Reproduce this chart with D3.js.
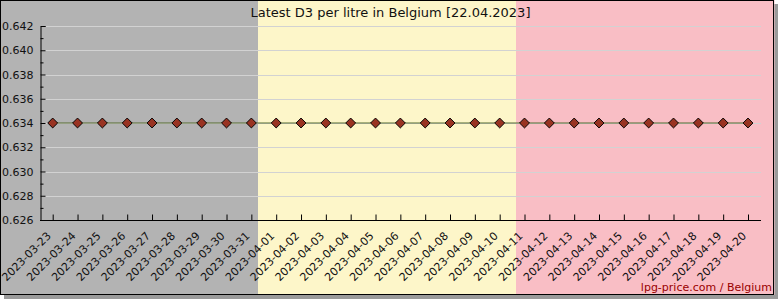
<!DOCTYPE html>
<html>
<head>
<meta charset="utf-8">
<script src="https://cdn.jsdelivr.net/npm/d3@7"></script>
<style>
  body { margin: 0; background: #fff; }
  svg { display: block; font-family: "DejaVu Sans", sans-serif; }
</style>
</head>
<body>
<svg id="chart"></svg>
<script>
// data
var dates = ["2023-03-23","2023-03-24","2023-03-25","2023-03-26","2023-03-27","2023-03-28","2023-03-29",
  "2023-03-30","2023-03-31","2023-04-01","2023-04-02","2023-04-03","2023-04-04","2023-04-05","2023-04-06",
  "2023-04-07","2023-04-08","2023-04-09","2023-04-10","2023-04-11","2023-04-12","2023-04-13","2023-04-14",
  "2023-04-15","2023-04-16","2023-04-17","2023-04-18","2023-04-19","2023-04-20"];
var prices = [0.634,0.634,0.634,0.634,0.634,0.634,0.634,0.634,0.634,0.634,0.634,0.634,0.634,0.634,0.634,
  0.634,0.634,0.634,0.634,0.634,0.634,0.634,0.634,0.634,0.634,0.634,0.634,0.634,0.634];
var yTicks = [0.626,0.628,0.630,0.632,0.634,0.636,0.638,0.640,0.642];
var yMinor = [0.627,0.629,0.631,0.633,0.635,0.637,0.639,0.641];
var bandColors = ["#b3b3b3","#fdf6c9","#f9bec5"];
var title = "Latest D3 per litre in Belgium [22.04.2023]";
var credit = "lpg-price.com / Belgium";

var W = 780, H = 300, frameW = 774, frameH = 295;
var plot = {left: 40, right: 761, top: 26, bottom: 220};

var svg = d3.select("#chart").attr("width", W).attr("height", H);

// shadow + bands + frame
svg.append("rect").attr("x", 4).attr("y", 4).attr("width", frameW).attr("height", frameH).attr("fill", "#9a9a9a");
var band = d3.scaleBand().domain(d3.range(3)).range([0, frameW]);
svg.selectAll(".band").data(bandColors).enter().append("rect")
  .attr("class", "band")
  .attr("x", function(d, i) { return band(i); })
  .attr("y", 0)
  .attr("width", band.bandwidth() + 0.5)
  .attr("height", frameH)
  .attr("fill", function(d) { return d; });
svg.append("rect").attr("x", 0.5).attr("y", 0.5).attr("width", frameW - 1).attr("height", frameH - 1)
  .attr("fill", "none").attr("stroke", "#000");

var x = d3.scalePoint().domain(dates).range([52.7, 748]);
var y = d3.scaleLinear().domain([0.626, 0.642]).range([plot.bottom, plot.top]);

var g = svg.append("g");

// grid
g.selectAll(".grid").data(yTicks.slice(1)).enter().append("line")
  .attr("x1", plot.left).attr("x2", plot.right)
  .attr("y1", function(d) { return Math.round(y(d)) + 0.5; })
  .attr("y2", function(d) { return Math.round(y(d)) + 0.5; })
  .attr("stroke", "#d2d2d2").attr("stroke-width", 1);

// y axis
var yAxis = g.append("g").attr("transform", "translate(" + (plot.left + 0.5) + ",0)")
  .call(d3.axisRight(y).tickValues(yTicks).tickSize(5).tickFormat(d3.format(".3f")));
yAxis.selectAll("text").attr("x", -7).attr("text-anchor", "end");
g.append("g").attr("transform", "translate(" + (plot.left + 0.5) + ",0)")
  .call(d3.axisRight(y).tickValues(yMinor).tickSize(3).tickFormat(""))
  .select(".domain").remove();

// x axis
var xAxis = g.append("g").attr("transform", "translate(0," + (plot.bottom + 0.5) + ")")
  .call(d3.axisTop(x).tickSize(6).tickSizeOuter(0));
xAxis.select(".domain").attr("d", "M" + plot.left + ",0H" + plot.right);
xAxis.selectAll("text")
  .attr("text-anchor", "end")
  .attr("y", 0).attr("dy", 0)
  .attr("transform", function() { return "translate(-1.5,16) rotate(-45)"; });

svg.selectAll(".tick text").attr("fill", "#111").attr("font-size", 11).attr("font-family", "DejaVu Sans");
svg.selectAll(".domain, .tick line").attr("stroke", "#000");

// line + markers
var line = d3.line().x(function(d, i) { return x(dates[i]); }).y(function(d) { return y(d); });
g.append("path").datum(prices).attr("d", line).attr("fill", "none").attr("stroke", "#556b2f").attr("stroke-width", 1.2);
g.selectAll(".pt").data(prices).enter().append("rect")
  .attr("class", "pt")
  .attr("width", 7).attr("height", 7)
  .attr("x", -3.5).attr("y", -3.5)
  .attr("transform", function(d, i) { return "translate(" + x(dates[i]) + "," + y(d) + ") rotate(45)"; })
  .attr("fill", "#993322").attr("stroke", "#000").attr("stroke-width", 0.9);

// texts
svg.append("text").attr("x", 390.5).attr("y", 17).attr("text-anchor", "middle")
  .attr("font-size", 13).attr("fill", "#111").text(title);
svg.append("text").attr("x", 772).attr("y", 291).attr("text-anchor", "end")
  .attr("font-size", 11).attr("fill", "#990000").text(credit);
</script>
</body>
</html>
